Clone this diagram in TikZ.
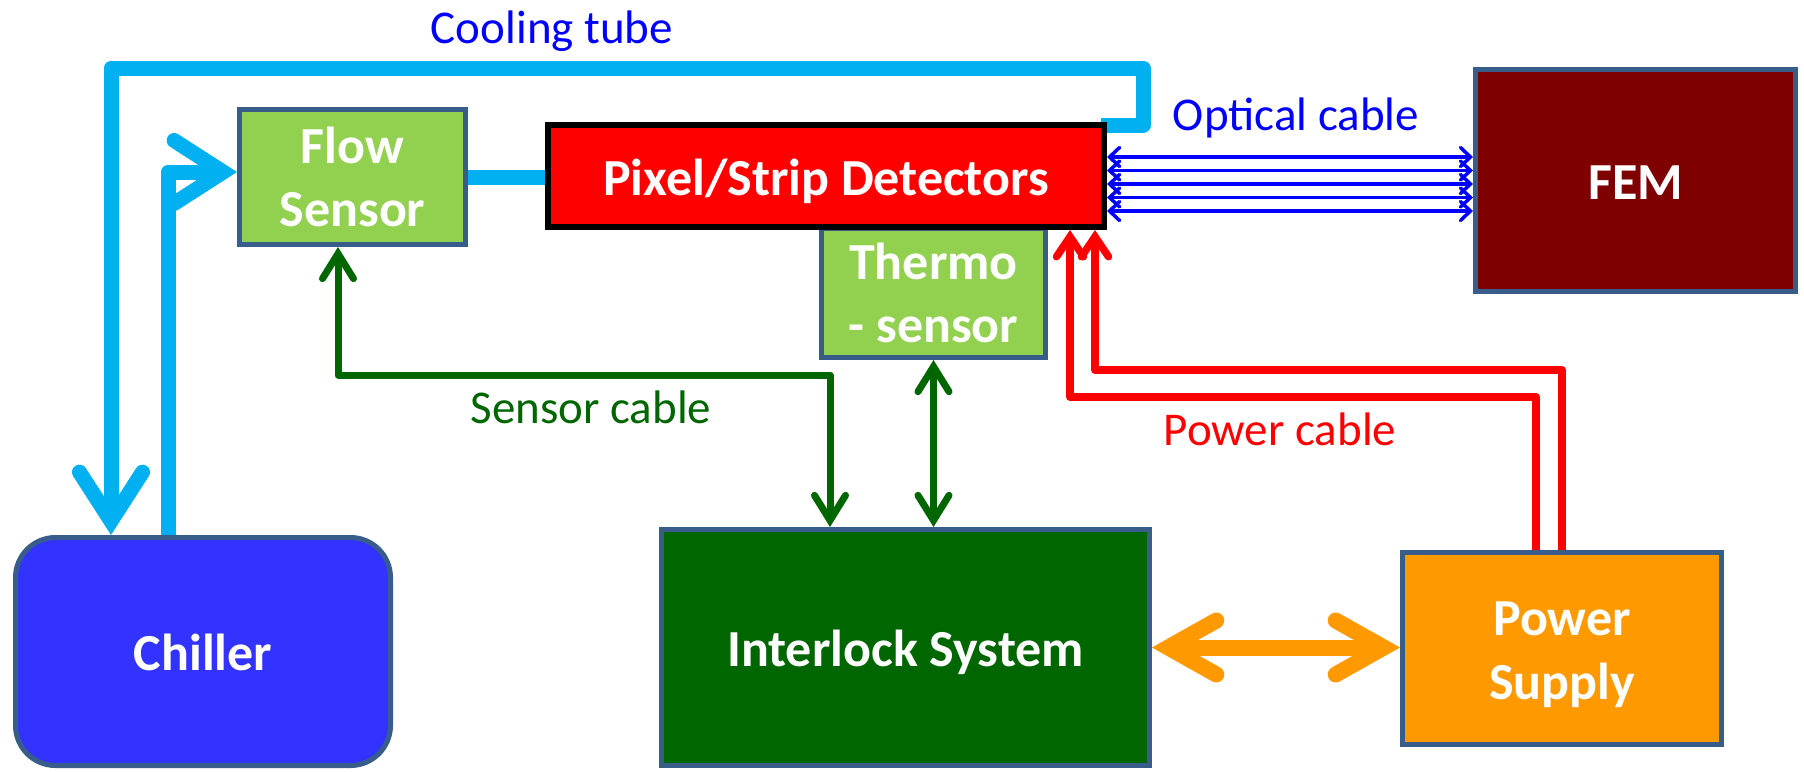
\documentclass[tikz,border=0pt]{standalone}
\usepackage{fontspec}
\setmainfont{Carlito}
\usetikzlibrary{arrows.meta,calc,backgrounds}
\definecolor{cyanc}{HTML}{00B0F0}
\definecolor{bluec}{HTML}{0000FF}
\definecolor{greenc}{HTML}{006600}
\definecolor{redc}{HTML}{FF0000}
\definecolor{orangec}{HTML}{FF9900}
\definecolor{edgec}{HTML}{385D8A}
\definecolor{lgreen}{HTML}{92D050}
\definecolor{maroonc}{HTML}{7F0000}
\definecolor{chillc}{HTML}{3333FF}
\newcommand\myboxfont{\bfseries\fontsize{52}{63.5}\selectfont}
\newcommand\mylabfont{\fontsize{47}{57}\selectfont}
\tikzset{
  box/.style={draw=edgec, line width=5pt, text=white, font=\myboxfont, inner sep=0pt, align=center},
  boxtext/.style={text=white, font=\myboxfont, inner sep=0pt, align=center},
  oneline/.style={text height=38pt, text depth=0pt},
  lab/.style={font=\mylabfont, inner sep=0pt, anchor=base},
  cool/.style={draw=cyanc, line width=15pt, line join=round},
  gline/.style={draw=greenc, line width=7pt, line join=round},
  rline/.style={draw=redc, line width=7.5pt, line join=round},
  optline/.style={draw=bluec, line width=3.5pt},
  orline/.style={draw=orangec, line width=16pt},
  cyanend/.style={-{Straight Barb[length=49pt,width=63pt,line cap=round,line join=miter]}},
  greenboth/.style={{Straight Barb[length=25pt,width=31pt,line cap=round,line join=miter]}-{Straight Barb[length=25pt,width=31pt,line cap=round,line join=miter]}},
  redend/.style={-{Straight Barb[length=20pt,width=27pt,line cap=round,line join=miter]}},
  optboth/.style={{Straight Barb[length=10pt,width=19pt,line cap=round,line join=miter]}-{Straight Barb[length=10pt,width=19pt,line cap=round,line join=miter]}},
  orboth/.style={{Straight Barb[length=48pt,width=54pt,line cap=round,line join=miter]}-{Straight Barb[length=48pt,width=54pt,line cap=round,line join=miter]}},
}
\begin{document}
\begin{tikzpicture}[x=1pt,y=-1pt]
\useasboundingbox (0,0) rectangle (1804,771);

% boxes
\node[box, fill=lgreen, minimum width=226pt, minimum height=135pt] (flow) at (352.5,177) {Flow\\Sensor};
\node[box, fill=lgreen, minimum width=224pt, minimum height=129pt] (thermo) at (933.5,293) {Thermo\\- sensor};
\node[box, oneline, draw=black, line width=6pt, fill=redc, minimum width=556pt, minimum height=102pt] (pix) at (826,176) {Pixel/Strip Detectors};
\node[box, oneline, fill=maroonc, minimum width=320pt, minimum height=222pt] (fem) at (1635.5,180.5) {FEM};
\node[box, oneline, fill=chillc, rounded corners=40pt, minimum width=375pt, minimum height=228pt] (chiller) at (203,651.5) {Chiller};
\node[box, oneline, fill=greenc, minimum width=488pt, minimum height=236pt] (inter) at (905.5,647.5) {Interlock System};
\node[box, fill=orangec, minimum width=319pt, minimum height=192pt] (ps) at (1562,648.5) {};
\node[boxtext] (pstext) at ($(ps.center)+(0,6)$) {Power\\Supply};

% labels
\node[lab, text=bluec] (lcool) at (552,43) {Cooling tube};
\node[lab, text=bluec] (lopt) at (1296,130) {Optical cable};
\node[lab, text=greenc] (lsens) at (591,423) {Sensor cable};
\node[lab, text=redc] (lpow) at (1280,445) {Power cable};

% waypoints
\coordinate (c1) at (1143,125);
\coordinate (c2) at (1143,68);
\coordinate (c3) at (111,68);
\coordinate (c4) at (168,172);
\coordinate (g1) at (338,375);
\coordinate (g2) at (830,375);
\coordinate (r1) at (1536,397);
\coordinate (r2) at (1070,397);
\coordinate (r3) at (1562,370);
\coordinate (r4) at (1095,370);

% cooling tube (outer loop runs under the detector box corner)
\begin{pgfonlayer}{background}
\fill[white] (0,0) rectangle (1804,771);
\draw[cool, cyanend] ($(pix.north east)+(-6,3)$) -- (c1) -- (c2) -- (c3) -- (chiller.north -| c3);
\end{pgfonlayer}
\draw[cool, cyanend] (chiller.north -| c4) -- (c4) -- (flow.west |- c4);
\draw[cool] (flow.east) -- (flow.east -| pix.west);

% sensor cables
\draw[gline, greenboth] (flow.south -| g1) -- (g1) -- (g2) -- (inter.north -| g2);
\draw[gline, greenboth] (thermo.south) -- (inter.north -| thermo.south);

% power cables
\draw[rline, redend] (ps.north -| r1) -- (r1) -- (r2) -- (pix.south -| r2);
\draw[rline, redend] (ps.north -| r3) -- (r3) -- (r4) -- (pix.south -| r4);

% optical cables
\foreach \yy [count=\i] in {157,170.5,184,197.5,211} {
  \coordinate (o\i) at (0,\yy);
  \draw[optline, optboth] (pix.east |- o\i) -- (fem.west |- o\i);
}

% interlock <-> power supply
\draw[orline, orboth] (inter.east) -- (inter.east -| ps.west);
\end{tikzpicture}
\end{document}
